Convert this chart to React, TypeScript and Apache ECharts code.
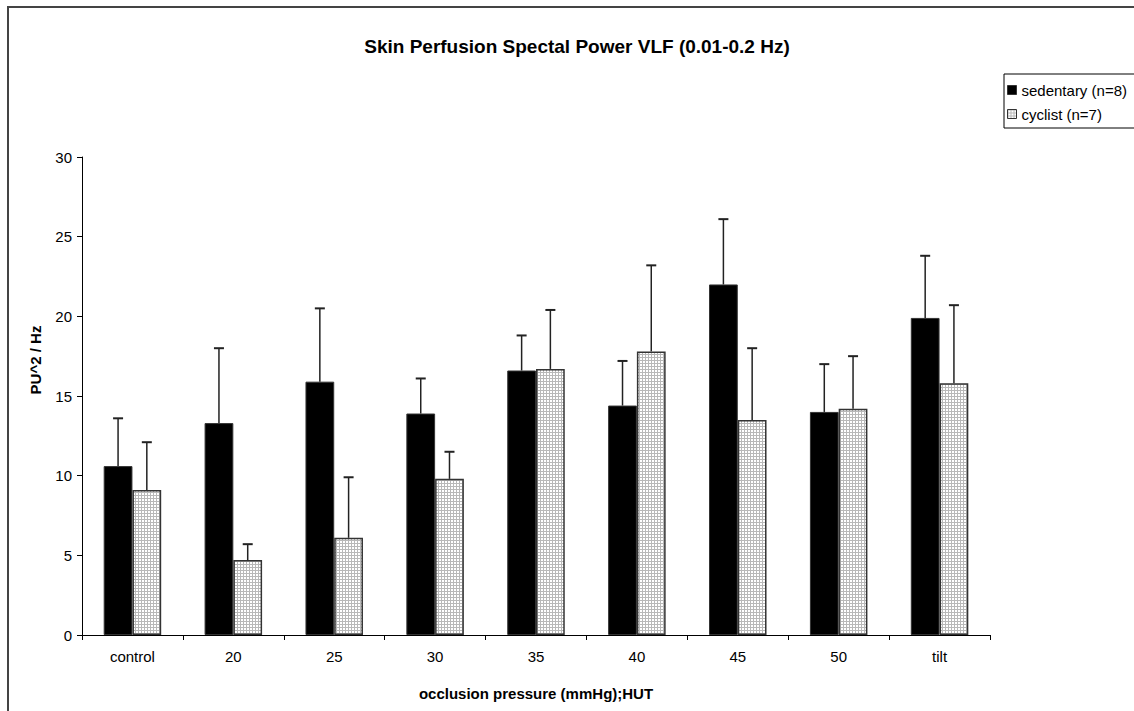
import React, { useEffect, useRef } from "react";
import * as echarts from "echarts";

const categories = ["control", "20", "25", "30", "35", "40", "45", "50", "tilt"];
const sedentary = [10.6, 13.3, 15.9, 13.9, 16.6, 14.4, 22.0, 14.0, 19.9];
const sedentaryErr = [3.0, 4.7, 4.6, 2.2, 2.2, 2.8, 4.1, 3.0, 3.9];
const cyclist = [9.1, 4.7, 6.1, 9.8, 16.7, 17.8, 13.5, 14.2, 15.8];
const cyclistErr = [3.0, 1.0, 3.8, 1.7, 3.7, 5.4, 4.5, 3.3, 4.9];
const seriesNames = ["sedentary (n=8)", "cyclist (n=7)"];
const yTicks = { min: 0, max: 30, interval: 5 };

const FONT = "'Liberation Sans', Arial, sans-serif";
const GAP = 0.43;

function makePattern() {
  const c = document.createElement("canvas");
  c.width = 3;
  c.height = 3;
  const ctx = c.getContext("2d")!;
  ctx.fillStyle = "#ffffff";
  ctx.fillRect(0, 0, 3, 3);
  ctx.fillStyle = "#b8b8b8";
  ctx.fillRect(0, 0, 3, 1);
  ctx.fillRect(0, 0, 1, 3);
  return c;
}

function errorSeries(values: number[], errs: number[], side: number) {
  return {
    type: "custom",
    silent: true,
    z: 5,
    encode: { x: 0, y: [1, 2] },
    data: values.map((v, i) => [i, v, v + errs[i]]),
    renderItem: (params: any, api: any) => {
      const idx = api.value(0);
      const base = api.value(1);
      const top = api.value(2);
      const band = api.size([1, 0])[0];
      const off = ((band * (1 - GAP)) / 4) * side;
      const p0 = api.coord([idx, base]);
      const p1 = api.coord([idx, top]);
      const x = p0[0] + off;
      return {
        type: "group",
        children: [
          {
            type: "line",
            shape: { x1: x, y1: p0[1], x2: x, y2: p1[1] },
            style: { stroke: "#222", lineWidth: 1.5 },
          },
          {
            type: "line",
            shape: { x1: x - 5, y1: p1[1], x2: x + 5, y2: p1[1] },
            style: { stroke: "#222", lineWidth: 2 },
          },
        ],
      };
    },
  };
}

export default function App() {
  const ref = useRef<HTMLDivElement>(null);
  useEffect(() => {
    if (!ref.current) return;
    const chart = echarts.init(ref.current, null, { renderer: "svg" });
    const pattern = makePattern();
    const option: any = {
      animation: false,
      backgroundColor: "#ffffff",
      textStyle: { fontFamily: FONT },
      grid: { left: 82, right: 144, top: 157, bottom: 76 },
      legend: {
        orient: "vertical",
        left: 1004,
        top: 74,
        padding: [7, 0, 6, 3],
        itemGap: 6,
        itemWidth: 9,
        itemHeight: 9,
        icon: "rect",
        itemStyle: { borderWidth: 1, borderColor: "#333" },
        borderWidth: 0,
        data: seriesNames,
        textStyle: { fontSize: 15, lineHeight: 18, color: "#000", fontFamily: FONT },
      },
      xAxis: {
        type: "category",
        data: categories,
        axisLine: { lineStyle: { color: "#000", width: 1 } },
        axisTick: { show: true, length: 5, lineStyle: { color: "#000" } },
        axisLabel: { fontSize: 15, color: "#000", margin: 14, fontFamily: FONT },
        name: "occlusion pressure (mmHg);HUT",
        nameLocation: "middle",
        nameGap: 51,
        nameTextStyle: { fontSize: 15, fontWeight: "bold", color: "#000", fontFamily: FONT },
      },
      yAxis: {
        type: "value",
        min: yTicks.min,
        max: yTicks.max,
        interval: yTicks.interval,
        axisLine: { show: true, lineStyle: { color: "#000", width: 1 } },
        axisTick: { show: true, length: 5, lineStyle: { color: "#000" } },
        splitLine: { show: false },
        axisLabel: { fontSize: 15, color: "#000", margin: 10, fontFamily: FONT },
      },
      series: [
        {
          type: "bar",
          name: seriesNames[0],
          data: sedentary,
          barGap: "0%",
          barCategoryGap: GAP * 100 + "%",
          itemStyle: { color: "#000", borderColor: "#333", borderWidth: 1 },
        },
        {
          type: "bar",
          name: seriesNames[1],
          data: cyclist,
          barGap: "0%",
          barCategoryGap: GAP * 100 + "%",
          itemStyle: {
            color: { image: pattern, repeat: "repeat", imageWidth: 3, imageHeight: 3 },
            borderColor: "#333",
            borderWidth: 1.5,
          },
        },
        errorSeries(sedentary, sedentaryErr, -1),
        errorSeries(cyclist, cyclistErr, 1),
      ],
      graphic: [
        {
          type: "rect",
          shape: { x: 8, y: 7, width: 1300, height: 900 },
          style: { fill: "none", stroke: "#444", lineWidth: 2 },
          silent: true,
        },
        {
          type: "rect",
          shape: { x: 1004, y: 74, width: 200, height: 54 },
          style: { fill: "none", stroke: "#000", lineWidth: 1 },
          silent: true,
        },
        {
          type: "text",
          x: 577,
          y: 46,
          style: {
            text: "Skin Perfusion Spectal Power VLF (0.01-0.2 Hz)",
            font: "bold 19px " + FONT,
            fill: "#000",
            textAlign: "center",
            textVerticalAlign: "middle",
          },
        },
        {
          type: "text",
          x: 35,
          y: 360,
          rotation: Math.PI / 2,
          style: {
            text: "PU^2 / Hz",
            font: "bold 15px " + FONT,
            fill: "#000",
            textAlign: "center",
            textVerticalAlign: "middle",
          },
        },
      ],
    };
    chart.setOption(option);
    return () => chart.dispose();
  }, []);
  return (
    <div
      ref={ref}
      style={{ position: "absolute", left: 0, top: 0, width: 1134, height: 711 }}
    />
  );
}
